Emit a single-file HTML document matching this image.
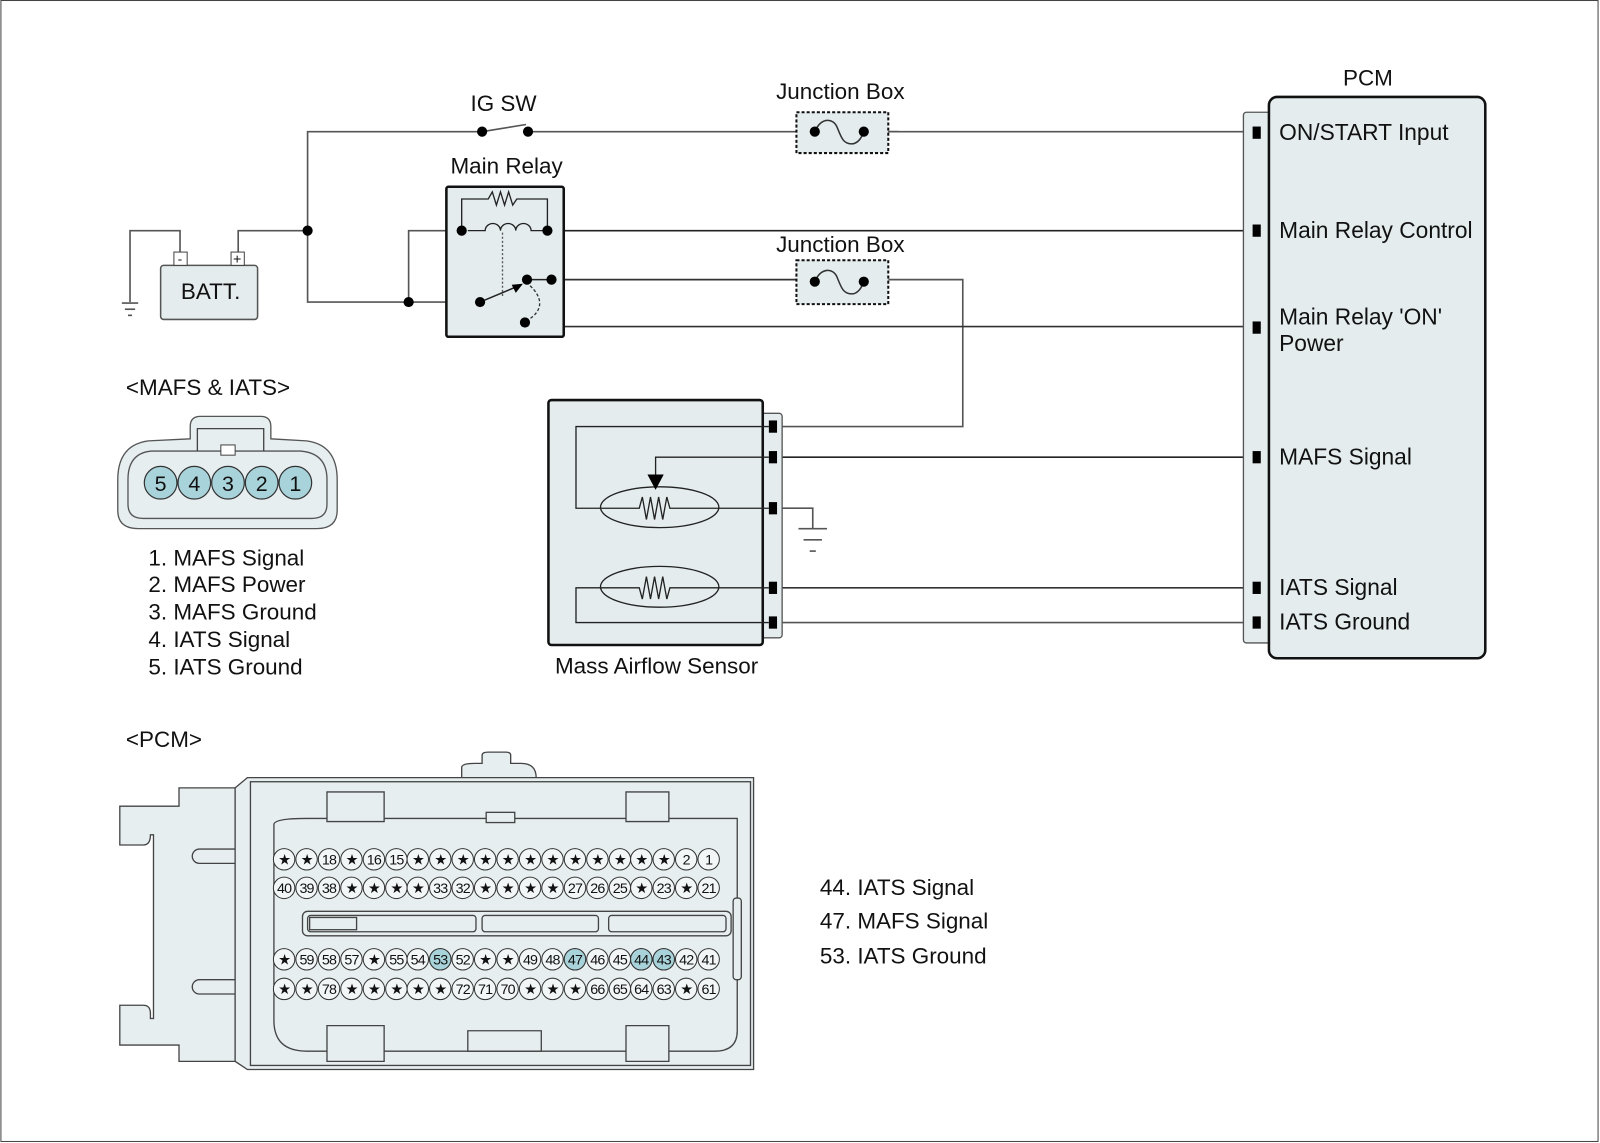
<!DOCTYPE html>
<html><head><meta charset="utf-8"><style>
html,body{margin:0;padding:0;background:#fff}
svg{display:block}
text{font-family:"Liberation Sans",Arial,sans-serif;fill:#111}
</style></head><body>
<svg width="1600" height="1143" viewBox="0 0 1567 1120" xmlns="http://www.w3.org/2000/svg">
<rect x="0.5" y="0.5" width="1565" height="1118" fill="#fff" stroke="#444" stroke-width="1"/>

<!-- wires -->
<g stroke="#555" stroke-width="1.6" fill="none">
<polyline points="1228,129 517,129"/>
<polyline points="472,129 301,129 301,296 470,296"/>
<line x1="472" y1="129" x2="515" y2="122"/>
<polyline points="233,248 233,226 301,226"/>
<polyline points="176,248 176,226 127,226 127,296"/>
<line x1="119" y1="297" x2="135" y2="297"/><line x1="122" y1="303" x2="132" y2="303"/><line x1="125" y1="309" x2="129" y2="309"/>
<polyline points="400,296 400,226 452,226"/>
<line x1="536" y1="226" x2="1228" y2="226" stroke="#222"/>
<line x1="540" y1="274" x2="780" y2="274" stroke="#333"/>
<polyline points="870,274 943,274 943,418 762,418"/>
<polyline points="540,274 540,320 1228,320" stroke="#333"/>
<line x1="762" y1="448" x2="1228" y2="448" stroke="#222"/>
<polyline points="762,498 796,498 796,518"/>
<line x1="782" y1="518" x2="810" y2="518"/><line x1="787" y1="529" x2="805" y2="529"/><line x1="793" y1="540" x2="799" y2="540"/>
<line x1="762" y1="576" x2="1228" y2="576" stroke="#333"/>
<line x1="762" y1="610" x2="1228" y2="610"/>
</g>

<!-- IG SW -->
<text x="493" y="109" font-size="22" text-anchor="middle">IG SW</text>
<circle cx="472" cy="129" r="5" fill="#000"/><circle cx="517" cy="129" r="5" fill="#000"/>
<circle cx="301" cy="226" r="5" fill="#000"/><circle cx="400" cy="296" r="5" fill="#000"/>

<!-- Junction boxes -->
<g>
<text x="823" y="97" font-size="22" text-anchor="middle">Junction Box</text>
<rect x="780" y="110" width="90" height="40" fill="#e4ecee" stroke="#111" stroke-width="2" stroke-dasharray="3,2"/>
<line x1="870" y1="129" x2="880" y2="129" stroke="#555" stroke-width="1.6"/>
<path d="M798,129 C804,115 816,115 820,125 C824,135 826,141 834,141 C840,141 844,135 846,129" fill="none" stroke="#333" stroke-width="1.5"/>
<circle cx="798" cy="129" r="5" fill="#000"/><circle cx="846" cy="129" r="5" fill="#000"/>
<text x="823" y="247" font-size="22" text-anchor="middle">Junction Box</text>
<rect x="780" y="255" width="90" height="43" fill="#e4ecee" stroke="#111" stroke-width="2" stroke-dasharray="3,2"/>
<path d="M798,276 C804,262 816,262 820,272 C824,282 826,288 834,288 C840,288 844,282 846,276" fill="none" stroke="#333" stroke-width="1.5"/>
<circle cx="798" cy="276" r="5" fill="#000"/><circle cx="846" cy="276" r="5" fill="#000"/>
</g>

<!-- Battery -->
<rect x="157" y="260" width="95" height="53" rx="3" fill="#e4ecee" stroke="#555" stroke-width="1.5"/>
<text x="206" y="293" font-size="22" text-anchor="middle">BATT.</text>
<rect x="170" y="247" width="13" height="13" fill="#fff" stroke="#444"/><text x="176" y="258" font-size="13" text-anchor="middle">-</text>
<rect x="226" y="247" width="13" height="13" fill="#fff" stroke="#444"/><text x="232" y="258" font-size="14" text-anchor="middle">+</text>

<!-- Main relay -->
<text x="496" y="170" font-size="22" text-anchor="middle">Main Relay</text>
<rect x="437" y="183" width="115" height="147" rx="2" fill="#e4ecee" stroke="#111" stroke-width="2.5"/>
<polyline points="452,226 452,195 478,195 482,188 486,201 490,188 494,201 498,188 502,201 506,195 536,195 536,226" fill="none" stroke="#222" stroke-width="1.3"/>
<path d="M458,226 H475 a7.5,7 0 0 1 15,0 a7.5,7 0 0 1 15,0 a7.5,7 0 0 1 15,0 H536" fill="none" stroke="#222" stroke-width="1.3"/>
<line x1="492" y1="228" x2="492" y2="290" stroke="#555" stroke-width="1.3" stroke-dasharray="2,2"/>
<line x1="470" y1="296" x2="508" y2="280" stroke="#222" stroke-width="1.5"/>
<polygon points="512,278 501,279 505,287" fill="#000"/>
<path d="M519,280 C532,292 532,305 516,314" fill="none" stroke="#333" stroke-width="1.3" stroke-dasharray="3,2"/>
<line x1="516" y1="274" x2="540" y2="274" stroke="#222" stroke-width="1.5"/>
<circle cx="452" cy="226" r="5" fill="#000"/><circle cx="536" cy="226" r="5" fill="#000"/>
<circle cx="470" cy="296" r="5" fill="#000"/><circle cx="516" cy="274" r="5" fill="#000"/>
<circle cx="540" cy="274" r="5" fill="#000"/><circle cx="514" cy="316" r="5" fill="#000"/>

<!-- PCM -->
<text x="1340" y="84" font-size="22" text-anchor="middle">PCM</text>
<rect x="1218" y="110" width="30" height="520" rx="3" fill="#e4ecee" stroke="#555" stroke-width="1.3"/>
<rect x="1243" y="95" width="212" height="550" rx="8" fill="#e4ecee" stroke="#111" stroke-width="2.5"/>
<g fill="#000">
<rect x="1227" y="124" width="8" height="12"/><rect x="1227" y="220" width="8" height="12"/>
<rect x="1227" y="315" width="8" height="12"/><rect x="1227" y="442" width="8" height="12"/>
<rect x="1227" y="570" width="8" height="12"/><rect x="1227" y="604" width="8" height="12"/>
</g>
<g font-size="22.3">
<text x="1253" y="137">ON/START Input</text>
<text x="1253" y="233">Main Relay Control</text>
<text x="1253" y="318">Main Relay 'ON'</text>
<text x="1253" y="344">Power</text>
<text x="1253" y="455">MAFS Signal</text>
<text x="1253" y="583">IATS Signal</text>
<text x="1253" y="617">IATS Ground</text>
</g>

<!-- Mass Airflow Sensor -->
<rect x="740" y="405" width="26" height="220" rx="3" fill="#e4ecee" stroke="#555" stroke-width="1.3"/>
<rect x="537" y="392" width="210" height="240" rx="3" fill="#e4ecee" stroke="#111" stroke-width="2.5"/>
<g fill="#000">
<rect x="753" y="412" width="8" height="12"/><rect x="753" y="442" width="8" height="12"/>
<rect x="753" y="492" width="8" height="12"/><rect x="753" y="570" width="8" height="12"/>
<rect x="753" y="604" width="8" height="12"/>
</g>
<g fill="none" stroke="#222" stroke-width="1.3">
<polyline points="753,418 564,418 564,498 626,498 629,487 633,509 637,487 641,509 645,487 649,509 653,487 656,498 753,498"/>
<ellipse cx="646" cy="497" rx="58" ry="20"/>
<polyline points="753,448 642,448 642,466"/>
<polyline points="753,576 656,576 653,587 649,565 645,587 641,565 637,587 633,565 629,587 626,576 564,576 564,610 753,610"/>
<ellipse cx="646" cy="575" rx="58" ry="20"/>
</g>
<polygon points="634,465 650,465 642,480" fill="#000"/>
<text x="643" y="660" font-size="22" text-anchor="middle">Mass Airflow Sensor</text>

<!-- MAFS & IATS connector -->
<text x="123" y="387" font-size="22">&lt;MAFS &amp; IATS&gt;</text>
<path d="M186,430 L186,418 Q186,408 196,408 L255,408 Q265,408 265,418 L265,430 L300,432 Q330,436 330,470 L330,500 Q330,518 310,518 L135,518 Q115,518 115,500 L115,470 Q115,436 145,432 Z" fill="#e6eef0" stroke="#555" stroke-width="1.3"/>
<path d="M148,442 L294,442 Q320,444 320,470 L320,494 Q320,508 305,508 L140,508 Q125,508 125,494 L125,470 Q125,444 148,442 Z" fill="none" stroke="#555" stroke-width="1.3"/>
<path d="M193,442 L193,420 L258,420 L258,442" fill="none" stroke="#444" stroke-width="1.3"/>
<rect x="216" y="436" width="14" height="10" fill="#fff" stroke="#444"/>
<g fill="#a9d3da" stroke="#333" stroke-width="1.2">
<circle cx="157" cy="473" r="16"/><circle cx="190" cy="473" r="16"/><circle cx="223" cy="473" r="16"/><circle cx="256" cy="473" r="16"/><circle cx="289" cy="473" r="16"/>
</g>
<g font-size="21" text-anchor="middle">
<text x="157" y="481">5</text><text x="190" y="481">4</text><text x="223" y="481">3</text><text x="256" y="481">2</text><text x="289" y="481">1</text>
</g>
<g font-size="22">
<text x="145" y="554">1. MAFS Signal</text>
<text x="145" y="580">2. MAFS Power</text>
<text x="145" y="607">3. MAFS Ground</text>
<text x="145" y="634">4. IATS Signal</text>
<text x="145" y="661">5. IATS Ground</text>
</g>

<!-- PCM connector -->
<text x="123" y="732" font-size="22">&lt;PCM&gt;</text>
<g fill="#e6eef0" stroke="#444" stroke-width="1.3">
<path d="M452,762 L452,752 Q452,748 465,748 L472,748 L472,740 Q472,737 478,737 L495,737 Q500,737 500,740 L500,748 L510,748 Q525,748 525,762 Z"/>
<path d="M117,790 L175,790 L175,772 L230,772 L230,1040 L175,1040 L175,1024 L117,1024 L117,985 L140,985 Q147,985 147,993 L147,998 L150,998 L150,818 L147,818 Q147,828 140,828 L117,828 Z"/>
<rect x="188" y="832" width="60" height="14" rx="7"/>
<rect x="188" y="960" width="60" height="14" rx="7"/>
<path d="M230,772 L242,762 L738,762 L738,1048 L242,1048 L230,1040 Z"/>
<rect x="245" y="766" width="490" height="278" fill="none"/>
<path d="M268,808 Q268,802 300,802 L722,802 Q722,802 722,830 L722,1010 Q722,1030 700,1030 L300,1030 Q268,1030 268,1000 Z" fill="#e6eef0"/>
<path d="M320,776 L376,776 L376,805 L320,805 Z"/>
<path d="M613,776 L655,776 L655,805 L613,805 Z"/>
<path d="M320,1005 L376,1005 L376,1040 L320,1040 Z"/>
<path d="M613,1005 L655,1005 L655,1040 L613,1040 Z"/>
<path d="M458,1030 L458,1010 L530,1010 L530,1030 Z"/>
<rect x="476" y="796" width="28" height="10"/>
<rect x="296" y="893" width="420" height="24" rx="5"/>
<rect x="301" y="897" width="165" height="16" rx="3"/>
<rect x="472" y="897" width="114" height="16" rx="3"/>
<rect x="596" y="897" width="115" height="16" rx="3"/>
<rect x="303" y="899" width="46" height="12" fill="none"/>
<rect x="718" y="880" width="8" height="80" rx="3"/>
</g>
<g fill="#f2f6f7" stroke="#333" stroke-width="1">
<g id="r1">
<circle cx="278" cy="842" r="10.5"/><circle cx="300" cy="842" r="10.5"/><circle cx="322" cy="842" r="10.5"/><circle cx="344" cy="842" r="10.5"/><circle cx="366" cy="842" r="10.5"/><circle cx="388" cy="842" r="10.5"/><circle cx="409" cy="842" r="10.5"/><circle cx="431" cy="842" r="10.5"/><circle cx="453" cy="842" r="10.5"/><circle cx="475" cy="842" r="10.5"/><circle cx="497" cy="842" r="10.5"/><circle cx="519" cy="842" r="10.5"/><circle cx="541" cy="842" r="10.5"/><circle cx="563" cy="842" r="10.5"/><circle cx="585" cy="842" r="10.5"/><circle cx="607" cy="842" r="10.5"/><circle cx="628" cy="842" r="10.5"/><circle cx="650" cy="842" r="10.5"/><circle cx="672" cy="842" r="10.5"/><circle cx="694" cy="842" r="10.5"/>
</g>
<use href="#r1" y="28"/><use href="#r1" y="98"/><use href="#r1" y="127"/>
</g>
<g fill="#a9d3da" stroke="#333" stroke-width="1">
<circle cx="431" cy="940" r="10.5"/><circle cx="563" cy="940" r="10.5"/><circle cx="628" cy="940" r="10.5"/><circle cx="650" cy="940" r="10.5"/>
</g>
<g font-size="14" text-anchor="middle" letter-spacing="-0.8">
<text x="278" y="847">★</text><text x="300" y="847">★</text><text x="322" y="847">18</text><text x="344" y="847">★</text><text x="366" y="847">16</text><text x="388" y="847">15</text><text x="409" y="847">★</text><text x="431" y="847">★</text><text x="453" y="847">★</text><text x="475" y="847">★</text><text x="497" y="847">★</text><text x="519" y="847">★</text><text x="541" y="847">★</text><text x="563" y="847">★</text><text x="585" y="847">★</text><text x="607" y="847">★</text><text x="628" y="847">★</text><text x="650" y="847">★</text><text x="672" y="847">2</text><text x="694" y="847">1</text>
<text x="278" y="875">40</text><text x="300" y="875">39</text><text x="322" y="875">38</text><text x="344" y="875">★</text><text x="366" y="875">★</text><text x="388" y="875">★</text><text x="409" y="875">★</text><text x="431" y="875">33</text><text x="453" y="875">32</text><text x="475" y="875">★</text><text x="497" y="875">★</text><text x="519" y="875">★</text><text x="541" y="875">★</text><text x="563" y="875">27</text><text x="585" y="875">26</text><text x="607" y="875">25</text><text x="628" y="875">★</text><text x="650" y="875">23</text><text x="672" y="875">★</text><text x="694" y="875">21</text>
<text x="278" y="945">★</text><text x="300" y="945">59</text><text x="322" y="945">58</text><text x="344" y="945">57</text><text x="366" y="945">★</text><text x="388" y="945">55</text><text x="409" y="945">54</text><text x="431" y="945">53</text><text x="453" y="945">52</text><text x="475" y="945">★</text><text x="497" y="945">★</text><text x="519" y="945">49</text><text x="541" y="945">48</text><text x="563" y="945">47</text><text x="585" y="945">46</text><text x="607" y="945">45</text><text x="628" y="945">44</text><text x="650" y="945">43</text><text x="672" y="945">42</text><text x="694" y="945">41</text>
<text x="278" y="974">★</text><text x="300" y="974">★</text><text x="322" y="974">78</text><text x="344" y="974">★</text><text x="366" y="974">★</text><text x="388" y="974">★</text><text x="409" y="974">★</text><text x="431" y="974">★</text><text x="453" y="974">72</text><text x="475" y="974">71</text><text x="497" y="974">70</text><text x="519" y="974">★</text><text x="541" y="974">★</text><text x="563" y="974">★</text><text x="585" y="974">66</text><text x="607" y="974">65</text><text x="628" y="974">64</text><text x="650" y="974">63</text><text x="672" y="974">★</text><text x="694" y="974">61</text>
</g>
<g font-size="22">
<text x="803" y="877">44. IATS Signal</text>
<text x="803" y="910">47. MAFS Signal</text>
<text x="803" y="944">53. IATS Ground</text>
</g>
</svg>
</body></html>
